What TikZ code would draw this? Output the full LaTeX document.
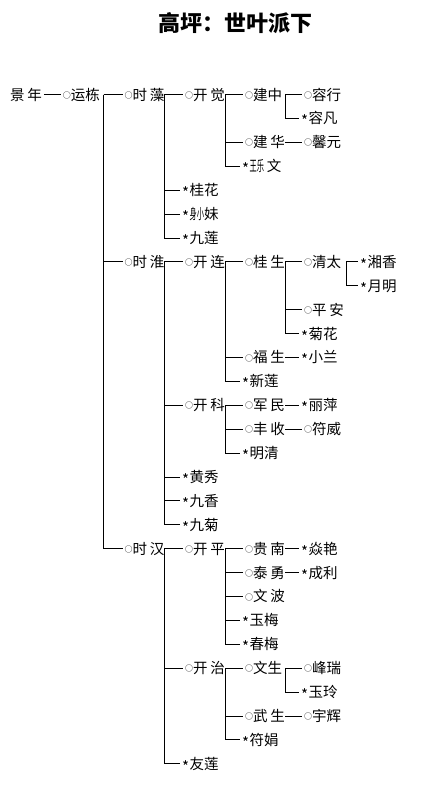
\documentclass[tikz,border=0pt]{standalone}
\usepackage{graphicx}
\usepackage{fontspec}
\setmainfont{Noto Sans CJK SC}[WordSpace=0.9]
\usepackage{tikz}
\newcommand\mo{\makebox[8pt][l]{\raisebox{1.9pt}{\fontsize{8}{8}\selectfont ○}}}
\newcommand\ms{\makebox[7.5pt][l]{\raisebox{-3pt}{\fontsize{15}{15}\selectfont *}}}
\newcommand\nar[1]{\scalebox{0.5}[1]{#1}}

\begin{document}
\begin{tikzpicture}[x=1pt,y=-23.9pt,line width=0.75pt,
  p/.style={anchor=west,inner sep=0pt,outer xsep=2pt,text height=12.5pt,text depth=1.5pt,
    font=\fontsize{14.5}{14.5}\selectfont}]
  \useasboundingbox (0,-2.954) rectangle (430,30.477);
  \node[font=\fontsize{22}{22}\selectfont\bfseries] (title) at (235.5,-2) {高坪：世叶派下};
  \node[p] (jn) at (8,1) {景 年};
  \node[p] (yd) at (61,1) {\mo 运栋};
  \node[p] (sz) at (122.5,1) {\mo 时 藻};
  \node[p] (kj) at (183,1) {\mo 开 觉};
  \node[p] (jz) at (243,1) {\mo 建中};
  \node[p] (rh) at (302,1) {\mo 容行};
  \node[p] (rf) at (299,2) {\ms 容凡};
  \node[p] (jh) at (243,3) {\mo 建 华};
  \node[p] (xy) at (302,3) {\mo 馨元};
  \node[p] (lw) at (240,4) {\ms \nar{王乐} 文};
  \node[p] (gh) at (180,5) {\ms 桂花};
  \node[p] (xm) at (180,6) {\ms \nar{身小}妹};
  \node[p] (jl) at (180,7) {\ms 九莲};
  \node[p] (sh) at (122.5,8) {\mo 时 淮};
  \node[p] (kl) at (183,8) {\mo 开 连};
  \node[p] (gs) at (243,8) {\mo 桂 生};
  \node[p] (qt) at (302,8) {\mo 清太};
  \node[p] (xx) at (358,8) {\ms 湘香};
  \node[p] (ym) at (358,9) {\ms 月明};
  \node[p] (pa) at (302,10) {\mo 平 安};
  \node[p] (jhu) at (299,11) {\ms 菊花};
  \node[p] (fs) at (243,12) {\mo 福 生};
  \node[p] (xl) at (299,12) {\ms 小兰};
  \node[p] (xli) at (240,13) {\ms 新莲};
  \node[p] (kk) at (183,14) {\mo 开 科};
  \node[p] (jm) at (243,14) {\mo 军 民};
  \node[p] (lp) at (299,14) {\ms 丽萍};
  \node[p] (fsh) at (243,15) {\mo 丰 收};
  \node[p] (fw) at (302,15) {\mo 符威};
  \node[p] (mq) at (240,16) {\ms 明清};
  \node[p] (hx) at (180,17) {\ms 黄秀};
  \node[p] (jx) at (180,18) {\ms 九香};
  \node[p] (jj) at (180,19) {\ms 九菊};
  \node[p] (shn) at (122.5,20) {\mo 时 汉};
  \node[p] (kp) at (183,20) {\mo 开 平};
  \node[p] (gn) at (243,20) {\mo 贵 南};
  \node[p] (yy) at (299,20) {\ms 焱艳};
  \node[p] (ty) at (243,21) {\mo 泰 勇};
  \node[p] (cl) at (299,21) {\ms 成利};
  \node[p] (wb) at (243,22) {\mo 文 波};
  \node[p] (ymei) at (240,23) {\ms 玉梅};
  \node[p] (cm) at (240,24) {\ms 春梅};
  \node[p] (kz) at (183,25) {\mo 开 治};
  \node[p] (wsh) at (243,25) {\mo 文生};
  \node[p] (fr) at (302,25) {\mo 峰瑞};
  \node[p] (yl) at (299,26) {\ms 玉玲};
  \node[p] (ws) at (243,27) {\mo 武 生};
  \node[p] (yh) at (302,27) {\mo 宇辉};
  \node[p] (fj) at (240,28) {\ms 符娟};
  \node[p] (yli) at (180,29) {\ms 友莲};
  \coordinate (yd-v) at (103.5,1);
  \coordinate (sz-v) at (164,1);
  \coordinate (kj-v) at (225,1);
  \coordinate (jz-v) at (285,1);
  \coordinate (jh-v) at (285,3);
  \coordinate (sh-v) at (164,8);
  \coordinate (kl-v) at (225,8);
  \coordinate (gs-v) at (285,8);
  \coordinate (qt-v) at (346,8);
  \coordinate (fs-v) at (285,12);
  \coordinate (kk-v) at (225,14);
  \coordinate (jm-v) at (285,14);
  \coordinate (fsh-v) at (285,15);
  \coordinate (shn-v) at (164,20);
  \coordinate (kp-v) at (225,20);
  \coordinate (gn-v) at (285,20);
  \coordinate (ty-v) at (285,21);
  \coordinate (kz-v) at (225,25);
  \coordinate (wsh-v) at (285,25);
  \coordinate (ws-v) at (285,27);
  \draw (jn.east) -- (yd.west);
  \draw (yd-v) -- (sz.west) (yd-v) |- (sh.west) (yd-v) |- (shn.west);
  \draw (sz-v) -- (kj.west) (sz-v) |- (gh.west) (sz-v) |- (xm.west) (sz-v) |- (jl.west);
  \draw (kj-v) -- (jz.west) (kj-v) |- (jh.west) (kj-v) |- (lw.west);
  \draw (jz-v) -- (rh.west) (jz-v) |- (rf.west);
  \draw (jh-v) -- (xy.west);
  \draw (sh-v) -- (kl.west) (sh-v) |- (kk.west) (sh-v) |- (hx.west) (sh-v) |- (jx.west) (sh-v) |- (jj.west);
  \draw (kl-v) -- (gs.west) (kl-v) |- (fs.west) (kl-v) |- (xli.west);
  \draw (gs-v) -- (qt.west) (gs-v) |- (pa.west) (gs-v) |- (jhu.west);
  \draw (qt-v) -- (xx.west) (qt-v) |- (ym.west);
  \draw (fs-v) -- (xl.west);
  \draw (kk-v) -- (jm.west) (kk-v) |- (fsh.west) (kk-v) |- (mq.west);
  \draw (jm-v) -- (lp.west);
  \draw (fsh-v) -- (fw.west);
  \draw (shn-v) -- (kp.west) (shn-v) |- (kz.west) (shn-v) |- (yli.west);
  \draw (kp-v) -- (gn.west) (kp-v) |- (ty.west) (kp-v) |- (wb.west) (kp-v) |- (ymei.west) (kp-v) |- (cm.west);
  \draw (gn-v) -- (yy.west);
  \draw (ty-v) -- (cl.west);
  \draw (kz-v) -- (wsh.west) (kz-v) |- (ws.west) (kz-v) |- (fj.west);
  \draw (wsh-v) -- (fr.west) (wsh-v) |- (yl.west);
  \draw (ws-v) -- (yh.west);
\end{tikzpicture}
\end{document}
